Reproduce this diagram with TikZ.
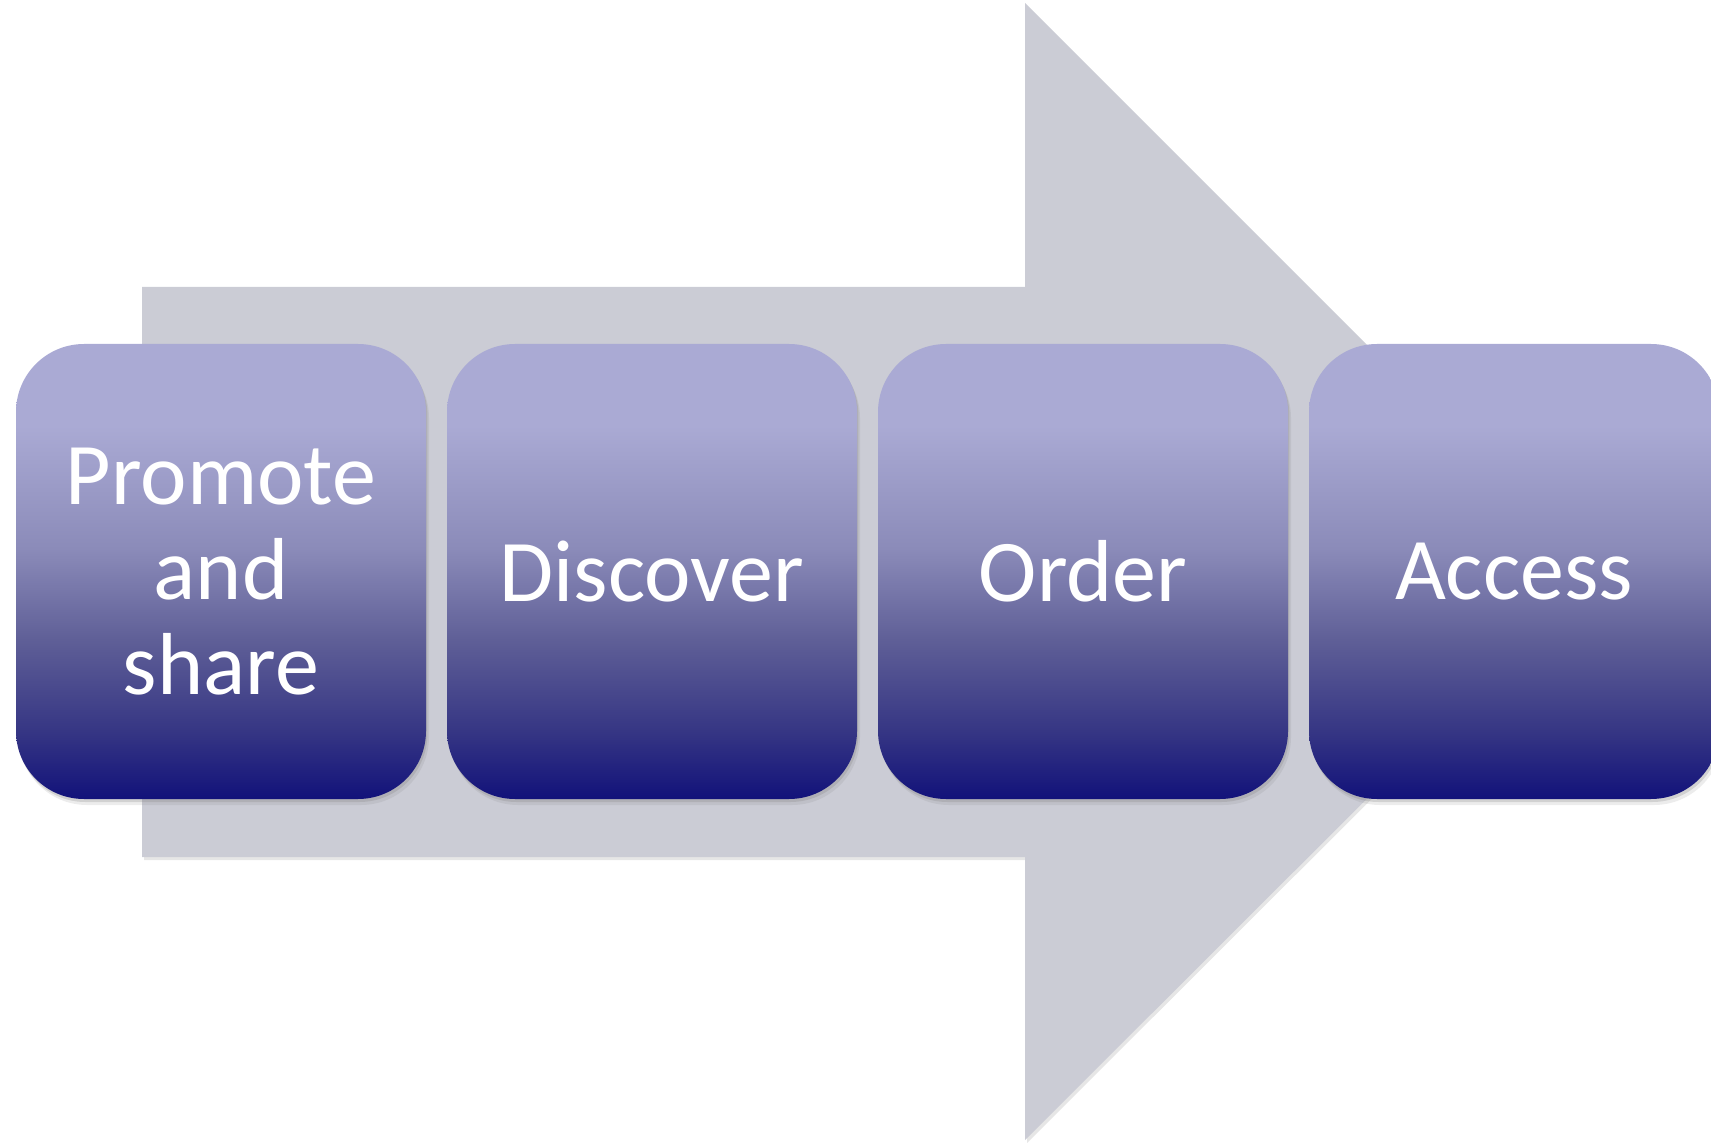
\documentclass[tikz,border=0pt]{standalone}
\usepackage{fontspec}
\setmainfont{Carlito}
\usetikzlibrary{shadows}
\definecolor{arrowgray}{HTML}{CBCCD5}
\definecolor{steptop}{HTML}{AAAAD4}
\definecolor{stepa}{HTML}{8B8BB9}
\definecolor{stepb}{HTML}{5F5F97}
\definecolor{stepc}{HTML}{363684}
\definecolor{stepbot}{HTML}{12127A}
\pgfdeclareverticalshading{stepshade}{100bp}{color(0bp)=(stepbot); color(25bp)=(stepbot); color(32.5bp)=(stepc); color(42.5bp)=(stepb); color(52.5bp)=(stepa); color(66bp)=(steptop); color(100bp)=(steptop)}
\tikzset{
  stepbox/.style={rounded corners=34pt, minimum width=205pt, minimum height=227.5pt,
    shading=stepshade, text=white, align=center, inner sep=0pt,
    font=\fontsize{44}{47.5}\selectfont,
    drop shadow={opacity=.15, shadow xshift=1.5pt, shadow yshift=-3pt},
    drop shadow={opacity=.25, shadow xshift=.7pt, shadow yshift=-1.5pt}},
  bigarrow/.style={fill=arrowgray, drop shadow={opacity=.2, shadow xshift=1pt, shadow yshift=-1.5pt}}
}
\begin{document}
\begin{tikzpicture}[x=.5pt, y=-.5pt]
\useasboundingbox (0,0) rectangle (1711,1143);
\def\pitch{431} \def\cy{571.5}
% big arrow behind
\path[bigarrow] (142,287) -- (1025,287) -- (1025,3) -- (1594,572) -- (1025,1140) -- (1025,857) -- (142,857) -- cycle;
% steps
\foreach \nm/\txt [count=\i] in {promote/{Promote\\and\\share}, discover/Discover, order/Order, access/Access}
  \node[stepbox] (\nm) at ({221+\pitch*(\i-1)},\cy) {\txt};
\end{tikzpicture}
\end{document}
